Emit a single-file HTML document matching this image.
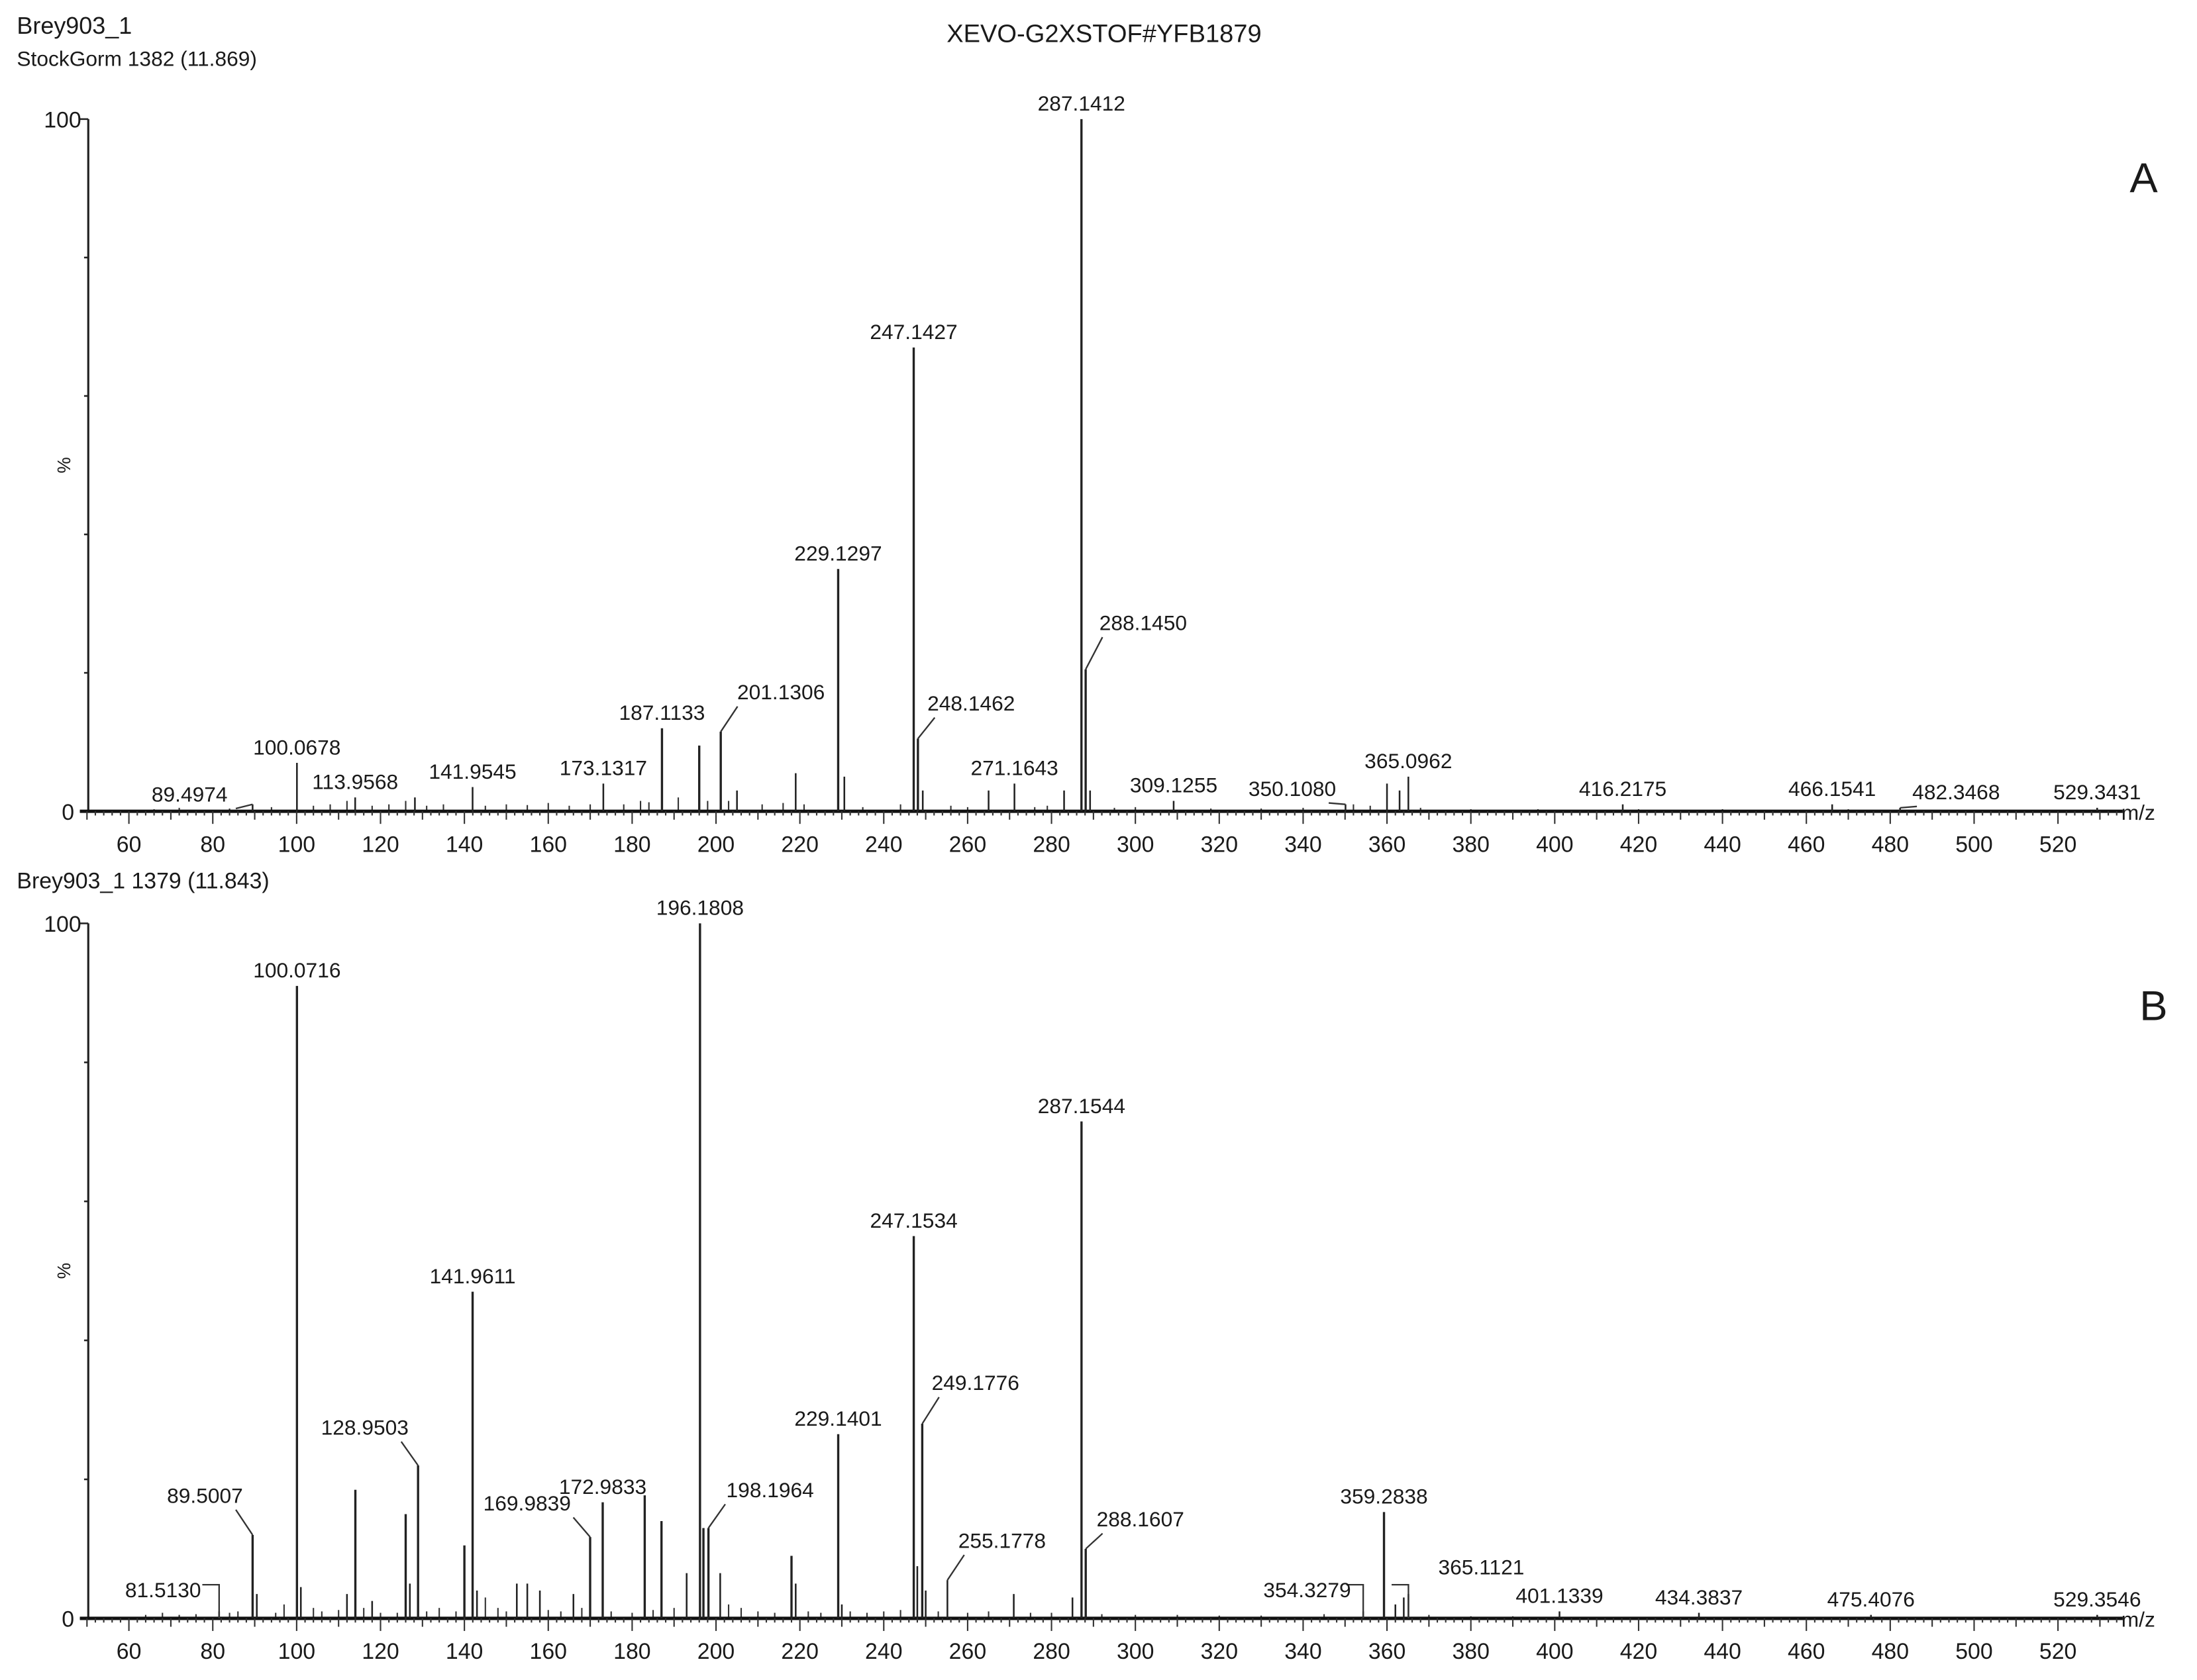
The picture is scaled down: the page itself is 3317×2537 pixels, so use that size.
<!DOCTYPE html>
<html><head><meta charset="utf-8"><style>
html,body{margin:0;padding:0;background:#fff}
svg{display:block}
text{font-family:"Liberation Sans",Arial,sans-serif;fill:#1a1a1a}
</style></head><body>
<svg id="chart" xmlns="http://www.w3.org/2000/svg" width="3317" height="2537" viewBox="0 0 1568 1199" preserveAspectRatio="none">
<text x="12" y="24" font-size="17">Brey903_1</text>
<text x="788" y="30" font-size="18" text-anchor="middle">XEVO-G2XSTOF#YFB1879</text>
<text x="12" y="47" font-size="15">StockGorm 1382 (11.869)</text>
<text x="12" y="634" font-size="16">Brey903_1 1379 (11.843)</text>
<text x="1530" y="137" font-size="30" text-anchor="middle">A</text>
<text x="1537" y="728" font-size="30" text-anchor="middle">B</text>
<g id="pa"></g>
<g id="pb"></g>
</svg>
<script>
// Panel A data
const aMz = [89.4974,100.0678,113.9568,128.2,141.9545,173.1317,187.1133,196.0,201.1306,205.0,219.0,229.1297,230.6,247.1427,248.1462,249.3,265.0,271.1643,283.0,287.1412,288.1450,289.2,309.1255,350.1080,360.0,363.0,365.0962,416.2175,466.1541,482.3468,529.3431];
const aInt = [1,7,2,2,3.5,4,12,9.5,11.5,3,5.5,35,5,67,10.5,3,3,4,3,100,20.5,3,1.5,1,4,3,5,1,1,0.5,0.5];
const aNoiseMz = [66,72,84,94,104,108,112,118,122,126,131,135,145,150,155,160,165,170,178,182,184,191,198,203,211,216,221,235,244,256,260,276,279,295,300,318,330,340,352,356,368,380,396,420,440,470];
const aNoiseInt = [0.3,0.5,0.4,0.6,0.8,1,1.5,0.8,1,1.5,0.8,1,0.8,1,0.9,1.2,0.8,1,1,1.5,1.3,2,1.5,1.5,1,1.2,1,0.6,1,0.8,0.6,0.6,0.8,0.5,0.6,0.4,0.4,0.5,1,0.8,0.5,0.3,0.3,0.3,0.3,0.3];
const aLabels = ["89.4974","100.0678","113.9568","141.9545","173.1317","187.1133","201.1306","229.1297","247.1427","248.1462","271.1643","287.1412","288.1450","309.1255","350.1080","365.0962","416.2175","466.1541","482.3468","529.3431"];
// Panel B data
const bMz = [81.5130,89.5007,90.5,100.0716,101.0,112.0,114.0,118.0,126.0,127.0,128.9503,140.0,141.9611,143.0,152.5,155.0,158.0,166.0,169.9839,172.9833,183.0,187.0,193.0,196.1808,197.0,198.1964,201.0,218.0,219.0,229.1401,230.0,247.1534,248.0,249.1776,250.0,255.1778,271.0,285.0,287.1544,288.1607,354.3279,359.2838,362.0,364.0,365.1121,401.1339,434.3837,475.4076,529.3546];
const bInt = [1,12,3.5,91,4.5,3.5,18.5,2.5,15,5,22,10.5,47,4,5,5,4,3.5,11.7,16.7,17.7,14,6.5,100,13,13,6.5,9,5,26.5,2,55,7.5,28,4,5.5,3.5,3,71.5,10,1,15.3,2,3,3.5,1,0.8,0.5,0.5];
const bNoiseMz = [64,68,72,76,84,86,95,97,104,106,110,116,120,124,131,134,138,145,148,150,160,163,168,175,180,185,190,203,206,210,214,222,225,232,236,240,244,253,260,265,275,280,292,300,310,320,330,345,370,380,390];
const bNoiseInt = [0.5,0.8,0.5,0.6,0.8,1,0.8,2,1.5,1,1.2,1.5,0.8,0.8,1,1.5,1,3,1.5,1,1.2,1,1.5,1,0.8,1.2,1.5,2,1.5,1,0.8,1,0.8,1,0.8,1,1.2,1,0.8,1,0.8,0.8,0.6,0.5,0.5,0.4,0.4,0.6,0.5,0.3,0.3];
const bLabels = ["81.5130","89.5007","100.0716","128.9503","141.9611","169.9839","172.9833","196.1808","198.1964","229.1401","247.1534","249.1776","255.1778","287.1544","288.1607","354.3279","359.2838","365.1121","401.1339","434.3837","475.4076","529.3546"];
const xTicks = [60,80,100,120,140,160,180,200,220,240,260,280,300,320,340,360,380,400,420,440,460,480,500,520];

// label layout offsets (dx, dy relative to peak top; mode 1 = leader, 2 = bracket)
const layoutA = {"89.4974":[-45,-2,1],"201.1306":[43,-23,1],"248.1462":[38,-20,1],"288.1450":[41,-28,1],"350.1080":[-38,-6,1],"482.3468":[40,-6,1]};
const layoutB = {"81.5130":[-40,-10,2],"89.5007":[-34,-23,1],"128.9503":[-38,-22,1],"169.9839":[-45,-19,1],"198.1964":[44,-22,1],"249.1776":[38,-24,1],"255.1778":[39,-23,1],"288.1607":[39,-16,1],"354.3279":[-40,-10,2],"365.1121":[52,-14,2]};

const NS = "http://www.w3.org/2000/svg";
function mk(tag, attrs, parent){const e=document.createElementNS(NS,tag);for(const k in attrs)e.setAttribute(k,attrs[k]);parent.appendChild(e);return e;}
function xS(mz){return 92+(mz-60)*2.993;}

function drawPanel(g, y0, y100, mz, inten, nMz, nInt, labels, layout, tag){
  const yS = v => y0 - (y0-y100)*v/100;
  let e=mk('line',{x1:63,y1:y100,x2:63,y2:y0,stroke:'#222','stroke-width':1.5},g);
  
  
  [0,20,40,60,80,100].forEach(v=>{
    let t=mk('line',{x1:v%100===0?57:60,y1:yS(v),x2:63,y2:yS(v),stroke:'#222','stroke-width':1.2},g);
    
    
  });
  let t0=mk('text',{x:53,y:y0+6,'font-size':16,'text-anchor':'end'},g);t0.textContent='0';
  
  
  let t1=mk('text',{x:58,y:y100+6,'font-size':16,'text-anchor':'end'},g);t1.textContent='100';
  
  
  let pc=mk('text',{x:0,y:0,'font-size':13,'text-anchor':'middle',transform:`translate(50,${(y0+y100)/2}) rotate(-90)`},g);pc.textContent='%';
  
  
  nMz.forEach((m,i)=>{
    let l=mk('line',{x1:xS(m),y1:y0,x2:xS(m),y2:yS(nInt[i]),stroke:'#333','stroke-width':1},g);
    
    
  });
  let xa=mk('line',{x1:57,y1:y0,x2:1515,y2:y0,stroke:'#111','stroke-width':2.4},g);
  
  
  for(let m=50;m<=534;m+=2){
    const len = m%20===0?9:(m%10===0?6:3);
    let tk=mk('line',{x1:xS(m),y1:y0,x2:xS(m),y2:y0+len,stroke:'#333','stroke-width':1},g);
    
    
  }
  xTicks.forEach(v=>{
    let tl=mk('text',{x:xS(v),y:y0+29,'font-size':16,'text-anchor':'middle'},g);tl.textContent=v;
    
    
  });
  let mzl=mk('text',{x:1514,y:y0+6,'font-size':15},g);mzl.textContent='m/z';
  
  
  mz.forEach((m,i)=>{
    let p=mk('line',{x1:xS(m),y1:y0,x2:xS(m),y2:yS(inten[i]),stroke:'#222','stroke-width':inten[i]>8?1.6:1.2},g);
    
    
  });
  labels.forEach(lbl=>{
    const m=parseFloat(lbl); let idx=mz.findIndex(v=>Math.abs(v-m)<0.001);
    const px=xS(m), py=yS(inten[idx]);
    const L=layout[lbl]||[0,-6,0];
    const tx=px+L[0], ty=py+L[1];
    if(L[2]===1){
      const sx = px + (L[0]>0?12:-12);
      let ln=mk('polyline',{points:`${sx},${ty+5} ${px},${py}`,fill:'none',stroke:'#333','stroke-width':1.1},g);
      
      
    } else if(L[2]===2){
      const by = y0-24;
      let ln=mk('polyline',{points:`${px-12},${by} ${px},${by} ${px},${y0}`,fill:'none',stroke:'#333','stroke-width':1.1},g);
      
      
    }
    let tx2=mk('text',{x:tx,y:ty,'font-size':15,'text-anchor':'middle'},g);tx2.textContent=lbl;
    
    
  });
}
drawPanel(document.getElementById('pa'),579,85,aMz,aInt,aNoiseMz,aNoiseInt,aLabels,layoutA,'panel-a');
drawPanel(document.getElementById('pb'),1155,659,bMz,bInt,bNoiseMz,bNoiseInt,bLabels,layoutB,'panel-b');
</script>
</body></html>
